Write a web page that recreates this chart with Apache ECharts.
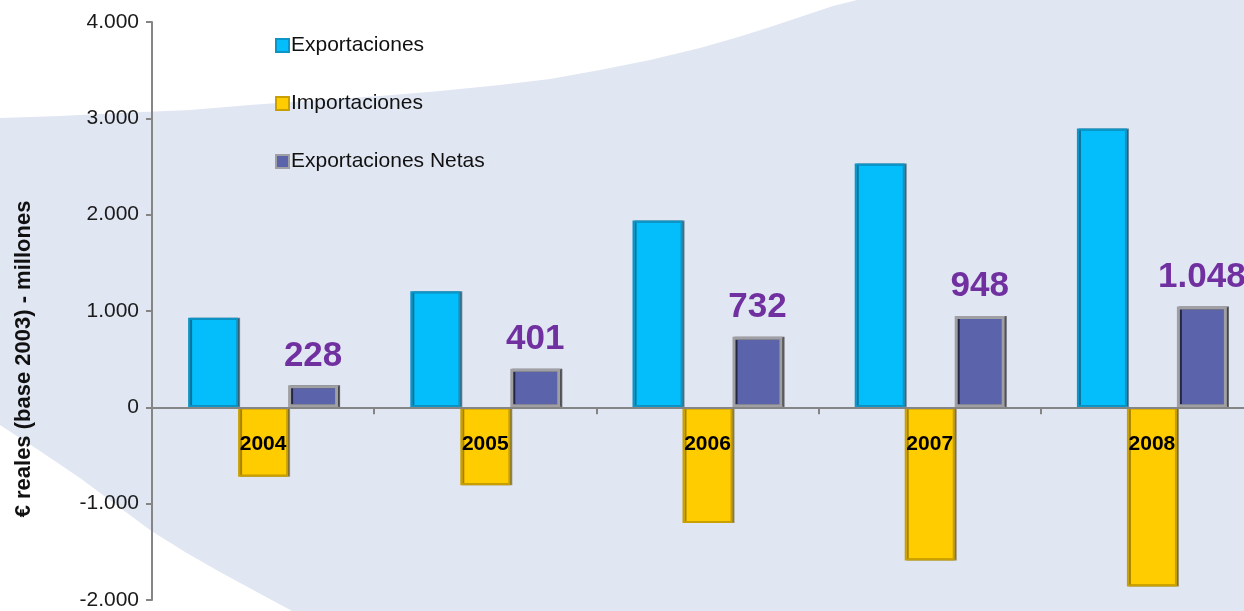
<!DOCTYPE html>
<html>
<head>
<meta charset="utf-8">
<script src="https://cdn.jsdelivr.net/npm/echarts@6/dist/echarts.min.js"></script>
<style>
  html, body { margin: 0; padding: 0; background: #fff; }
  #chart { width: 1244px; height: 611px; }
</style>
</head>
<body>
<div id="chart"></div>
<script>
// datos (millones de euros reales, base 2003)
const years = ['2004', '2005', '2006', '2007', '2008'];
const exportaciones = [930, 1205, 1940, 2530, 2895];
const importaciones = [-720, -810, -1200, -1590, -1860];
const netas = [228, 401, 732, 948, 1048];
const seriesNames = ['Exportaciones', 'Importaciones', 'Exportaciones Netas'];
const yMin = -2000, yMax = 4000, yStep = 1000;

const FONT = '"Liberation Sans", Arial, sans-serif';

// 1234 -> 1.234
function fmt(v) {
  const s = String(Math.abs(v)).replace(/\B(?=(\d{3})+(?!\d))/g, '.');
  return (v < 0 ? '-' : '') + s;
}

const chart = echarts.init(document.getElementById('chart'));

const option = {
  backgroundColor: '#E1E6F3',
  animation: false,
  textStyle: { fontFamily: FONT },
  graphic: [
    // fondo: zonas blancas
    {
      type: 'polygon', z: -10, silent: true,
      shape: { points: [[0, 0], [0, 118], [60, 116], [120, 113], [190, 110], [250, 105], [320, 100], [380, 96], [440, 91], [500, 85], [550, 79], [600, 70], [650, 60], [700, 48], [735, 38], [767, 28], [800, 17], [833, 6], [857, 0]] },
      style: { fill: '#ffffff' }
    },
    {
      type: 'polygon', z: -10, silent: true,
      shape: { points: [[0, 425], [40, 451], [80, 478], [115, 504], [150, 530], [185, 552], [220, 572], [255, 591], [292, 611], [0, 611]] },
      style: { fill: '#ffffff' }
    },
    // titulo del eje Y
    {
      type: 'text', z: 10, x: 24, y: 359, rotation: Math.PI / 2,
      style: {
        text: '€ reales (base 2003) - millones',
        font: 'bold 22px ' + FONT,
        fill: '#111',
        align: 'center',
        verticalAlign: 'middle'
      }
    }
  ],
  legend: {
    orient: 'vertical',
    left: 270,
    top: 30,
    itemGap: 37,
    itemWidth: 13,
    itemHeight: 13,
    icon: 'rect',
    data: seriesNames,
    textStyle: { fontSize: 21, color: '#111', fontFamily: FONT, padding: [0, 0, 0, -3] }
  },
  grid: { left: 152, right: -19, top: 22, bottom: 11, containLabel: false, outerBoundsMode: 'none' },
  xAxis: {
    type: 'category',
    data: years,
    z: 5,
    axisLine: { onZero: true, lineStyle: { color: '#858585', width: 2 } },
    axisTick: { show: true, length: 7, lineStyle: { color: '#858585', width: 2 } },
    axisLabel: { show: false }
  },
  yAxis: {
    type: 'value',
    min: yMin, max: yMax, interval: yStep,
    splitLine: { show: false },
    axisLine: { show: true, lineStyle: { color: '#858585', width: 2 } },
    axisTick: { show: true, length: 6, lineStyle: { color: '#858585', width: 2 } },
    axisLabel: { fontSize: 21, color: '#1a1a1a', margin: 13, formatter: fmt, fontFamily: FONT }
  },
  series: [
    {
      name: seriesNames[0],
      type: 'bar',
      data: exportaciones,
      barWidth: 50,
      barGap: '0%',
      itemStyle: {
        color: '#03BEFB',
        borderColor: '#0E95C8',
        borderWidth: 2,
        shadowColor: 'rgba(20,60,80,0.6)',
        shadowOffsetX: 2,
        shadowBlur: 0
      }
    },
    {
      name: seriesNames[1],
      type: 'bar',
      data: importaciones,
      barWidth: 50,
      barGap: '0%',
      itemStyle: {
        color: '#FFCC00',
        borderColor: '#C9A000',
        borderWidth: 2,
        shadowColor: 'rgba(90,70,0,0.55)',
        shadowOffsetX: 2,
        shadowBlur: 0
      },
      // etiqueta del año sobre la barra de importaciones (centro de la categoria)
      label: {
        show: true,
        position: 'insideTop',
        distance: 26,
        formatter: p => p.name,
        fontSize: 21,
        fontWeight: 'bold',
        color: '#000',
        fontFamily: FONT
      }
    },
    {
      name: seriesNames[2],
      type: 'bar',
      data: netas,
      barWidth: 50,
      barGap: '0%',
      itemStyle: {
        color: '#5B63AB',
        borderColor: '#A0A0A4',
        borderWidth: 3,
        shadowColor: 'rgba(0,0,0,0.6)',
        shadowOffsetX: 2,
        shadowBlur: 0
      },
      label: {
        show: true,
        position: 'top',
        distance: 12,
        formatter: p => fmt(p.value),
        fontSize: 35,
        fontWeight: 'bold',
        color: '#7030A0',
        fontFamily: FONT
      }
    }
  ]
};

chart.setOption(option);
</script>
</body>
</html>
